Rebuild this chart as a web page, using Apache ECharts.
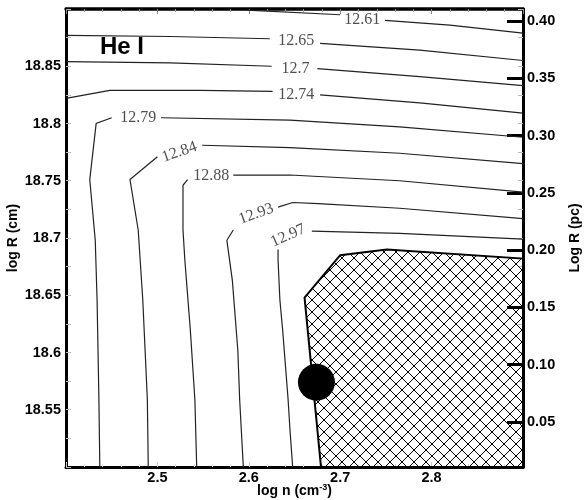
<!DOCTYPE html>
<html><head><meta charset="utf-8">
<script src="https://cdn.jsdelivr.net/npm/echarts@6/dist/echarts.min.js"></script>
<style>html,body{margin:0;padding:0;background:#fff}#c{width:586px;height:500px}</style>
</head><body><div id="c"></div>
<script>
// contour levels and label placement (data coords)
const levels = ['12.61','12.65','12.7','12.74','12.79','12.84','12.88','12.93','12.97'];
const labelX = [2.724, 2.652, 2.651, 2.652, 2.479, 2.524, 2.559, 2.608, 2.643];
const labelY = [18.891, 18.872, 18.848, 18.825, 18.805, 18.775, 18.754, 18.721, 18.702];
const labelRot = [0, 0, 0, 0, 0, 19, 0, 20, 24];
// contour polylines: [left part, right part] of each level
const c1261 = [[[2.598,18.899],[2.700,18.895]], [[2.749,18.890],[2.820,18.886],[2.9,18.879]]];
const c1265 = [[[2.4,18.877],[2.514,18.876],[2.623,18.874]], [[2.678,18.870],[2.787,18.864],[2.9,18.855]]];
const c1270 = [[[2.4,18.854],[2.514,18.853],[2.625,18.850]], [[2.675,18.848],[2.787,18.841],[2.9,18.833]]];
const c1274 = [[[2.4,18.822],[2.448,18.829],[2.547,18.829],[2.626,18.828]], [[2.678,18.825],[2.787,18.818],[2.9,18.809]]];
const c1279 = [[[2.437,18.5],[2.436,18.559],[2.434,18.646],[2.432,18.698],[2.426,18.751],[2.433,18.800],[2.450,18.805]], [[2.504,18.805],[2.645,18.803],[2.765,18.797],[2.9,18.788]]];
const c1284 = [[[2.490,18.5],[2.489,18.559],[2.484,18.646],[2.479,18.707],[2.470,18.751],[2.500,18.771]], [[2.549,18.781],[2.645,18.779],[2.765,18.774],[2.9,18.765]]];
const c1288 = [[[2.543,18.5],[2.541,18.559],[2.536,18.620],[2.530,18.681],[2.528,18.707],[2.528,18.746],[2.533,18.751]], [[2.583,18.755],[2.645,18.755],[2.765,18.750],[2.9,18.740]]];
const c1293 = [[[2.594,18.5],[2.590,18.559],[2.588,18.602],[2.582,18.663],[2.576,18.698],[2.583,18.707]], [[2.632,18.727],[2.648,18.731],[2.676,18.730],[2.765,18.726],[2.9,18.717]]];
const c1297 = [[[2.648,18.5],[2.645,18.533],[2.643,18.559],[2.637,18.620],[2.634,18.646],[2.632,18.681],[2.632,18.690]], [[2.669,18.706],[2.765,18.704],[2.9,18.699]]];
// excluded (hatched) region
const hatchX = [2.661, 2.700, 2.751, 2.9, 2.9, 2.679];
const hatchY = [18.648, 18.685, 18.690, 18.682, 18.5, 18.5];
// observed point
const markerX = [2.674];
const markerY = [18.574];
// axes
const xTicks = [2.5, 2.6, 2.7, 2.8];
const pcTicks = [0.05, 0.10, 0.15, 0.20, 0.25, 0.30, 0.35, 0.40];
const pcOffset = 18.4894;

const allSegs = [c1261, c1265, c1270, c1274, c1279, c1284, c1288, c1293, c1297]
  .flatMap(c => c.map(s => ({ coords: s })));

const tile = document.createElement('canvas');
tile.width = 12; tile.height = 12;
const tc = tile.getContext('2d');
tc.strokeStyle = '#000'; tc.lineWidth = 1;
tc.beginPath(); tc.moveTo(-1, -1); tc.lineTo(13, 13); tc.moveTo(13, -1); tc.lineTo(-1, 13); tc.stroke();

const bold = { fontFamily: 'Liberation Sans, Arial, sans-serif', fontWeight: 'bold', fontSize: 14.5, color: '#000' };
const chart = echarts.init(document.getElementById('c'), null, { renderer: 'canvas' });
chart.setOption({
  animation: false,
  backgroundColor: '#fff',
  grid: { left: 66, right: 63, top: 9, bottom: 33, containLabel: false, outerBoundsMode: 'none' },
  graphic: [{ type: 'text', left: 100, top: 35, style: { text: 'He I', font: 'bold 24px "Liberation Sans", Arial, sans-serif', fill: '#000' } }],
  xAxis: [{
    type: 'value', min: 2.4, max: 2.9, interval: 0.1, position: 'bottom',
    name: 'log n (cm{sup|-3})', nameLocation: 'middle', nameGap: 16, nameMoveOverlap: false,
    nameTextStyle: Object.assign({}, bold, { fontSize: 14, rich: { sup: { fontSize: 9, fontWeight: 'bold', fontFamily: 'Liberation Sans, Arial, sans-serif', color: '#000', verticalAlign: 'bottom', padding: [0, 0, 8, 0] } } }),
    axisLine: { lineStyle: { color: '#000', width: 3 } },
    axisTick: { inside: true, length: 5, lineStyle: { color: '#ccc' } },
    minorTick: { show: true, splitNumber: 5, length: 3, lineStyle: { color: '#ddd' } },
    splitLine: { show: false },
    axisLabel: Object.assign({}, bold, { margin: 3, formatter: v => xTicks.some(t => Math.abs(t - v) < 1e-6) ? v.toFixed(1) : '' })
  }, {
    type: 'value', min: 2.4, max: 2.9, interval: 0.1, position: 'top',
    axisLine: { lineStyle: { color: '#000', width: 3.5 } },
    axisTick: { inside: true, length: 5, lineStyle: { color: '#888' } },
    minorTick: { show: true, splitNumber: 5, length: 3, lineStyle: { color: '#999' } },
    splitLine: { show: false }, axisLabel: { show: false }
  }],
  yAxis: [{
    type: 'value', min: 18.5, max: 18.9, interval: 0.05, position: 'left',
    name: 'log R (cm)', nameLocation: 'middle', nameRotate: 90, nameGap: 46, nameMoveOverlap: false,
    nameTextStyle: Object.assign({}, bold, { fontSize: 14 }),
    axisLine: { lineStyle: { color: '#000', width: 3 } },
    axisTick: { inside: true, length: 5, lineStyle: { color: '#bbb' } },
    minorTick: { show: true, splitNumber: 2, length: 5, lineStyle: { color: '#bbb' } },
    splitLine: { show: false },
    axisLabel: Object.assign({}, bold, { margin: 5, showMinLabel: false, showMaxLabel: false }),
  }, {
    type: 'value', min: 18.5 - pcOffset, max: 18.9 - pcOffset, position: 'right',
    name: 'Log R (pc)', nameLocation: 'middle', nameRotate: 90, nameGap: 45, nameMoveOverlap: false,
    nameTextStyle: Object.assign({}, bold, { fontSize: 14 }),
    axisLine: { show: true, lineStyle: { color: '#000', width: 3 } },
    axisTick: { show: true, inside: true, length: 16, customValues: pcTicks, lineStyle: { color: '#000', width: 3 } },
    splitLine: { show: false },
    axisLabel: Object.assign({}, bold, { margin: 4, customValues: pcTicks, formatter: v => v.toFixed(2) })
  }, {
    type: 'value', min: 18.5, max: 18.9, interval: 0.025, position: 'right',
    axisLine: { show: false },
    axisTick: { show: true, inside: true, length: 5, lineStyle: { color: '#bbb' } },
    splitLine: { show: false }, axisLabel: { show: false }
  }],
  series: [{
    type: 'lines', coordinateSystem: 'cartesian2d', polyline: true, silent: true,
    data: allSegs, lineStyle: { color: '#222', width: 1.2, opacity: 1 }, z: 3
  }, {
    type: 'scatter', symbolSize: 0, silent: true, z: 4,
    data: labelX.map((x, i) => ({ value: [x, labelY[i]], name: levels[i], label: { rotate: labelRot[i] } })),
    label: { show: true, position: 'inside', formatter: '{b}', fontFamily: 'Liberation Serif, Times New Roman, serif', fontSize: 16, color: '#222' }
  }, {
    type: 'custom', silent: true, z: 5,
    data: hatchX.map((x, i) => [x, hatchY[i]]),
    renderItem: (params, api) => {
      if (params.dataIndex !== 0) return null;
      const pts = hatchX.map((x, i) => api.coord([x, hatchY[i]]));
      return { type: 'polygon', shape: { points: pts }, style: { fill: { image: tile, repeat: 'repeat' }, stroke: '#000', lineWidth: 2 } };
    }
  }, {
    type: 'scatter', silent: true, z: 6, symbolSize: 37,
    itemStyle: { color: '#000', opacity: 1 },
    data: markerX.map((x, i) => [x, markerY[i]])
  }]
});
</script>
</body></html>
